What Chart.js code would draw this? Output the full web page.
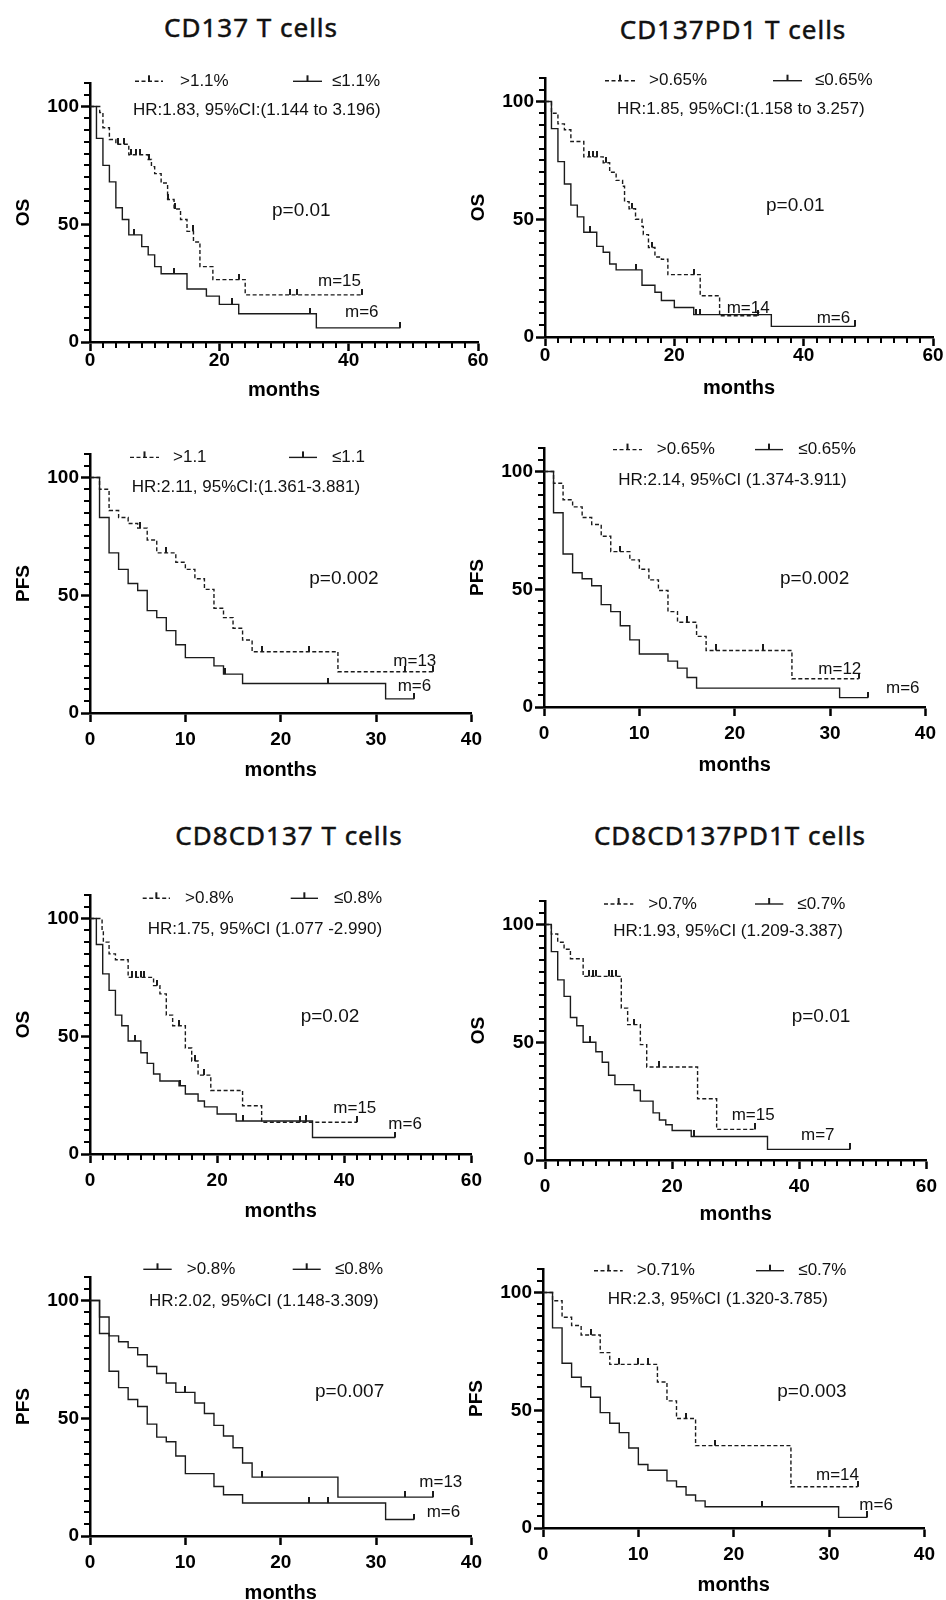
<!DOCTYPE html>
<html><head><meta charset="utf-8">
<script src="https://cdn.jsdelivr.net/npm/chart.js@4"></script>
<style>
html,body{margin:0;padding:0;background:#fff;width:946px;height:1600px;overflow:hidden;}
.t{position:absolute;font-family:'Noto Sans';font-size:26px;letter-spacing:1px;color:#111;white-space:nowrap;transform:translate(-50%,-50%);line-height:1;-webkit-text-stroke:0.5px #111;}
canvas{position:absolute;}
</style></head><body>
<div id="titles"></div>
<script>
// ---- tick values ----
const xTicksOS = [0, 20, 40, 60];
const xTicksPFS = [0, 10, 20, 30, 40];
const yTicks = [0, 50, 100];

// ---- text ----
const panelTitles = ['CD137 T cells', 'CD137PD1 T cells', 'CD8CD137 T cells', 'CD8CD137PD1T cells'];
const yLabels = ['OS', 'OS', 'PFS', 'PFS', 'OS', 'OS', 'PFS', 'PFS'];
const legendHigh = ['>1.1%', '>0.65%', '>1.1', '>0.65%', '>0.8%', '>0.7%', '>0.8%', '>0.71%'];
const legendLow = ['≤1.1%', '≤0.65%', '≤1.1', '≤0.65%', '≤0.8%', '≤0.7%', '≤0.8%', '≤0.7%'];
const hrTexts = ['HR:1.83, 95%CI:(1.144 to 3.196)', 'HR:1.85, 95%CI:(1.158 to 3.257)',
  'HR:2.11, 95%CI:(1.361-3.881)', 'HR:2.14, 95%CI (1.374-3.911)',
  'HR:1.75, 95%CI (1.077 -2.990)', 'HR:1.93, 95%CI (1.209-3.387)',
  'HR:2.02, 95%CI (1.148-3.309)', 'HR:2.3, 95%CI (1.320-3.785)'];
const pTexts = ['p=0.01', 'p=0.01', 'p=0.002', 'p=0.002', 'p=0.02', 'p=0.01', 'p=0.007', 'p=0.003'];
const mHigh = ['m=15', 'm=14', 'm=13', 'm=12', 'm=15', 'm=15', 'm=13', 'm=14'];
const mLow = ['m=6', 'm=6', 'm=6', 'm=6', 'm=6', 'm=7', 'm=6', 'm=6'];

// ---- survival curves: [month, survival %] after each step; censor times ----
const p1High = [[0,100],[1.5,97.5],[2,91],[3,86],[4,84],[6,79.5],[9,77.5],[9.5,74.5],[10,71.5],[11,67.5],[12,60.5],[13,56.5],[14,52],[15,47],[16,42.5],[17,32],[19,26.5],[24,20],[42,20]];
const p1HighC = [4.3,5.2,6.4,7.1,7.8,9.2,12.1,13.1,15.9,23,31,32,42];
const p1Low = [[0,100],[1,86.5],[2,75],[3,68],[4,57],[5,52],[6,45.5],[8,40.5],[9,37],[10,32],[11,29],[15,22.5],[18,19.5],[20,16],[23,12],[35,6],[48,6]];
const p1LowC = [6.8,13,22,34,48];

const p2High = [[0,100],[1,95],[2,90.5],[3,88],[4,83],[6,76.5],[9,74],[10,70],[11,66.5],[12,64],[12.3,57.5],[13,54.5],[14,50],[15,47],[15.2,43.5],[16,38],[17,34],[18,33],[19,26.5],[24,17.5],[27,9],[33,9]];
const p2HighC = [6.8,7.4,8,9.5,13.5,16.5,23,33];
const p2Low = [[0,100],[1,88.5],[2,74.5],[3,65],[4,56],[5,51],[6,44.5],[8,38.5],[9,36],[10,31],[11,28.5],[15,22],[17,19],[18,15.5],[20,12.5],[23,9.5],[35,4.5],[48,4.5]];
const p2LowC = [7,14,23.3,24,48];

const p3High = [[0,100],[1,95],[2,86],[3,83],[4,80.5],[5,78.5],[6,73.5],[7,68],[9,64],[10,61],[11,57],[12,52.5],[13,44.5],[14,40.5],[15,36],[16,31],[17,26],[26,17.5],[36,17.5]];
const p3HighC = [5.2,8,18,23,33,36];
const p3Low = [[0,100],[1,83],[2,68],[3,61],[4,55],[5,52],[6,43.5],[7,40.5],[8,35],[9,29],[10,23.5],[13,20],[14,16.5],[16,12.5],[31,6],[34,6]];
const p3LowC = [14.2,25,34];

const p4High = [[0,100],[1,95],[2,88],[3,85],[4,80.5],[5,77.5],[6,72.5],[7,66],[9,62.5],[10,58.5],[11,54],[12,49.5],[13,40.5],[14,36],[16,30],[17,24],[26,12],[33,12]];
const p4HighC = [8,15,18,23,33];
const p4Low = [[0,100],[1,82.5],[2,65],[3,57],[4,54.5],[5,51.5],[6,43.5],[7,40.5],[8,34.5],[9,28.5],[10,22.5],[13,19.5],[14,16.5],[15,12.5],[16,8],[31,4],[34,4]];
const p4LowC = [34];

const p5High = [[0,100],[1.9,95],[2.1,90],[3,85],[4,82.5],[6,75],[10,71.5],[11,68],[12,59],[13,54.5],[15,45],[16,39.5],[17,33.5],[19,27],[24,20.5],[27,13.5],[42,13.5]];
const p5HighC = [6.6,7.2,8,8.5,10.5,14,16.5,18,33,34,42];
const p5Low = [[0,100],[1,89],[2,76.5],[3,69.5],[4,59],[5,54.5],[6,48],[8,43],[9,38.5],[10,34],[11,31],[14,29],[15,25.5],[17,22.5],[18,20],[20,17],[23,14],[35,7],[48,7]];
const p5LowC = [7,14.2,24,34,48];

const p6High = [[0,100],[1,96],[2,92.5],[3,89.5],[4,85.5],[6,78],[12,64.5],[13,57.5],[15,49],[16,39.5],[24,26],[27,13],[33,13]];
const p6HighC = [6.9,7.5,8,10,10.5,11.1,14,18,33];
const p6Low = [[0,100],[1,88.5],[2,76.5],[3,69.5],[4,60.5],[5,57],[6,50],[8,46],[9,41.5],[10,36],[11,32],[14,29.5],[15,25],[17,20],[18,17],[19,15],[20,12.5],[23,10],[35,4.5],[48,4.5]];
const p6LowC = [7,23.5,48];

const p7High = [[0,100],[1,93],[2,85],[3,82.5],[4,80],[5,77],[6,72],[7,69],[8,65],[9,61],[11,56.5],[12,52],[13,47],[14,42.5],[15,37.5],[16,31],[17,25],[26,16.5],[36,16.5]];
const p7HighC = [10,18,33,36];
const p7Low = [[0,100],[1,86],[2,70],[3,63],[4,58],[5,55],[6,47.5],[7,42],[8,40],[9,34],[10,26.5],[13,21],[14,17.5],[16,14],[31,7],[34,7]];
const p7LowC = [23,25,34];

const p8High = [[0,100],[1,96.5],[2,89.5],[3,86],[4,82],[6,74.5],[7,69.5],[12,62],[13,54],[14,46.5],[16,35],[26,17.5],[33,17.5]];
const p8HighC = [5,8,10,11,15,18,33];
const p8Low = [[0,100],[1,85],[2,70],[3,64],[4,60],[5,55.5],[6,49],[7,44.5],[8,40.5],[9,34],[10,27],[11,24.5],[13,20],[14,17.5],[15,14],[16,11.5],[17,9],[31,4.5],[34,4.5]];
const p8LowC = [23,34];

const seriesHigh = [p1High,p2High,p3High,p4High,p5High,p6High,p7High,p8High];
const censHigh = [p1HighC,p2HighC,p3HighC,p4HighC,p5HighC,p6HighC,p7HighC,p8HighC];
const seriesLow = [p1Low,p2Low,p3Low,p4Low,p5Low,p6Low,p7Low,p8Low];
const censLow = [p1LowC,p2LowC,p3LowC,p4LowC,p5LowC,p6LowC,p7LowC,p8LowC];

// ---- layout (pixels) ----
const titleLayout = [[251,27],[733,29],[289,835],[730,835]];
const layout = [
 {left:0,  top:53,   pfs:false, tickPad:0, tPad:10, dash:true,  leg:260.7, s1:[45,73],   t1:90,    s2:[203,232],   t2:242,   hr:[43,231.7],  p:[182,131.7],  mh:[228,60.7],  ml:[255,29.7]},
 {left:455,top:48,   pfs:false, tickPad:0, tPad:7,  dash:true,  leg:256.3, s1:[60,90],   t1:104,   s2:[228,257],   t2:270,   hr:[72,227.3],  p:[221,131.3],  mh:[181.7,29],  ml:[271.7,19]},
 {left:0,  top:424,  pfs:true,  tickPad:8, tPad:1,  dash:true,  leg:255.6, s1:[40,69],   t1:83,    s2:[199,227],   t2:242,   hr:[41.7,226],  p:[219.3,134],  mh:[303.3,51.6],ml:[307.7,26.6]},
 {left:454,top:418,  pfs:true,  tickPad:8, tPad:0,  dash:true,  leg:257.4, s1:[69,98],   t1:112.7, s2:[211,239],   t2:254.3, hr:[74.3,226.7],p:[236,128.4],  mh:[274.3,37.4],ml:[342,19]},
 {left:0,  top:865,  pfs:false, tickPad:8, tPad:1,  dash:true,  leg:255.7, s1:[52.7,80], t1:95,    s2:[200.7,228], t2:244,   hr:[57.7,224.7],p:[210.7,137.3],mh:[243.3,45.7],ml:[298.3,29.7]},
 {left:455,top:871,  pfs:false, tickPad:8, tPad:4,  dash:true,  leg:256,   s1:[59,88.3], t1:103.3, s2:[210,238.3], t2:252.3, hr:[68.3,228.3],p:[246.7,143.3],mh:[186.7,45],  ml:[256,25]},
 {left:0,  top:1247, pfs:true,  tickPad:8, tPad:1,  dash:false, leg:266.7, s1:[53.3,81.7],t1:96.7,  s2:[202.7,230.7],t2:245,  hr:[59,235],    p:[225,144.3],  mh:[329.3,53.3],ml:[336.7,23.3]},
 {left:453,top:1239, pfs:true,  tickPad:8, tPad:1,  dash:true,  leg:257.3, s1:[51,79.7], t1:93.7,  s2:[213,241],   t2:255.3, hr:[64.7,228.3],p:[234.3,136.6],mh:[273,52.6],  ml:[316.3,22.3]}
];

const CW = 490, CH = 359, YW = 90, XH = 70, PT = 30, PR = 12;
const LINE = '#1b1b1b';
const FONT = '"Liberation Sans", Arial, sans-serif';

const titlesDiv = document.getElementById('titles');
panelTitles.forEach((t, i) => {
  const d = document.createElement('div');
  d.className = 't';
  d.style.left = titleLayout[i][0] + 'px';
  d.style.top = titleLayout[i][1] + 'px';
  d.textContent = t;
  titlesDiv.appendChild(d);
});

const censorImg = (() => {
  const c = document.createElement('canvas');
  c.width = 2; c.height = 12;
  const g = c.getContext('2d');
  g.fillStyle = LINE; g.fillRect(0, 0, 2, 6);
  return c;
})();

function survivalAt(series, t) {
  let s = series[0][1];
  for (const [tt, v] of series) if (tt <= t) s = v;
  return s;
}

const overlay = {
  id: 'overlay',
  afterDraw(chart, args, opts) {
    const i = opts.idx, L = layout[i];
    const ctx = chart.ctx, xs = chart.scales.x, ys = chart.scales.y;
    const ox = chart.chartArea.left, oy = chart.chartArea.bottom;
    ctx.save();
    // minor ticks
    ctx.strokeStyle = '#000'; ctx.lineWidth = 2;
    ctx.beginPath();
    if (!L.pfs) {
      for (let v = 2; v < 60; v += 2) {
        if (xTicksOS.includes(v)) continue;
        const px = Math.round(xs.getPixelForValue(v));
        ctx.moveTo(px, oy); ctx.lineTo(px, oy + 6);
      }
    }
    for (let v = 5; v <= 110; v += 5) {
      if (yTicks.includes(v)) continue;
      const py = Math.round(ys.getPixelForValue(v));
      ctx.moveTo(ox, py); ctx.lineTo(ox - 6, py);
    }
    ctx.stroke();
    // legend
    ctx.strokeStyle = LINE; ctx.lineWidth = 1.4;
    const ly = oy - L.leg;
    const sample = (a, b, dashed) => {
      ctx.beginPath(); ctx.setLineDash(dashed ? [4, 2.5] : []);
      ctx.moveTo(ox + a, ly); ctx.lineTo(ox + b, ly); ctx.stroke();
      ctx.setLineDash([]);
      ctx.fillStyle = LINE;
      ctx.fillRect(ox + (a + b) / 2 - 1, ly - 6, 2, 6);
    };
    sample(L.s1[0], L.s1[1], L.dash);
    sample(L.s2[0], L.s2[1], false);
    ctx.fillStyle = '#111';
    ctx.textBaseline = 'middle'; ctx.textAlign = 'left';
    ctx.font = '17px ' + FONT;
    ctx.fillText(legendHigh[i], ox + L.t1, ly);
    ctx.fillText(legendLow[i], ox + L.t2, ly);
    ctx.fillText(hrTexts[i], ox + L.hr[0], oy - L.hr[1]);
    ctx.fillText(mHigh[i], ox + L.mh[0], oy - L.mh[1]);
    ctx.fillText(mLow[i], ox + L.ml[0], oy - L.ml[1]);
    ctx.font = '19px ' + FONT;
    ctx.fillText(pTexts[i], ox + L.p[0], oy - L.p[1]);
    ctx.restore();
  }
};

layout.forEach((L, i) => {
  const cv = document.createElement('canvas');
  cv.width = CW; cv.height = CH;
  cv.style.left = L.left + 'px'; cv.style.top = L.top + 'px';
  cv.style.zIndex = (i % 2) + 1;
  document.body.appendChild(cv);
  const hi = seriesHigh[i], lo = seriesLow[i];
  const xTicks = L.pfs ? xTicksPFS : xTicksOS;
  const xMax = xTicks[xTicks.length - 1];
  const tickFont = {family: FONT, size: 19, weight: 'bold', lineHeight: 1};
  new Chart(cv, {
    type: 'line',
    data: {
      datasets: [
        {data: hi.map(([x, y]) => ({x, y})), stepped: true, borderColor: LINE, borderWidth: 1.4,
         borderDash: L.dash ? [4, 2.5] : [], pointRadius: 0, fill: false, order: 2},
        {data: lo.map(([x, y]) => ({x, y})), stepped: true, borderColor: LINE, borderWidth: 1.4,
         pointRadius: 0, fill: false, order: 2},
        {data: censHigh[i].map(t => ({x: t, y: survivalAt(hi, t)})), showLine: false,
         pointStyle: censorImg, pointRadius: 3, borderColor: LINE, backgroundColor: LINE, order: 1},
        {data: censLow[i].map(t => ({x: t, y: survivalAt(lo, t)})), showLine: false,
         pointStyle: censorImg, pointRadius: 3, borderColor: LINE, backgroundColor: LINE, order: 1}
      ]
    },
    options: {
      responsive: false, animation: false, devicePixelRatio: 1,
      layout: {padding: {left: 0, top: PT, right: PR, bottom: 0}},
      plugins: {legend: {display: false}, tooltip: {enabled: false}, overlay: {idx: i}},
      scales: {
        x: {
          type: 'linear', min: 0, max: xMax,
          afterBuildTicks: s => { s.ticks = xTicks.map(v => ({value: v})); },
          afterFit: s => { s.height = XH; },
          ticks: {font: tickFont, color: '#000', padding: L.tickPad, maxRotation: 0, autoSkip: false},
          grid: {display: true, drawOnChartArea: false, drawTicks: true, tickLength: 9, tickWidth: 2.5, tickColor: '#000'},
          border: {display: true, color: '#000', width: 2.5},
          title: {display: true, text: 'months', color: '#000',
                  font: {family: FONT, size: 20, weight: 'bold'}, padding: {top: 0, bottom: L.tPad}}
        },
        y: {
          type: 'linear', min: 0, max: 110,
          afterBuildTicks: s => { s.ticks = yTicks.map(v => ({value: v})); },
          afterFit: s => { s.width = YW; },
          ticks: {font: tickFont, color: '#000', padding: 2, autoSkip: false},
          grid: {display: true, drawOnChartArea: false, drawTicks: true, tickLength: 9, tickWidth: 2.5, tickColor: '#000'},
          border: {display: true, color: '#000', width: 2.5},
          title: {display: true, text: yLabels[i], color: '#000',
                  font: {family: FONT, size: 19, weight: 'bold'}, padding: {top: 12.6, bottom: 0}}
        }
      }
    },
    plugins: [overlay]
  });
});
</script>
</body></html>
